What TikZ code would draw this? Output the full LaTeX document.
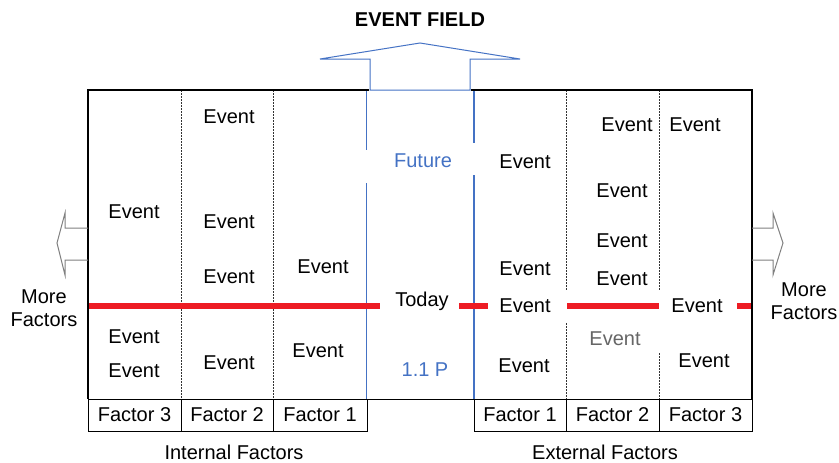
\documentclass[tikz,border=0pt]{standalone}
\usepackage{fontspec}
\setmainfont{Liberation Sans}
\definecolor{fieldblue}{RGB}{68,114,196}
\definecolor{todayred}{RGB}{237,28,36}

\begin{document}
\begin{tikzpicture}[x=1pt,y=-1pt,
    txt/.style={font=\fontsize{20}{23}\selectfont, inner sep=0pt},
    headline/.style={font=\fontsize{20}{23}\selectfont\bfseries, inner sep=0pt},
    divider/.style={black!80, line width=0.9pt, dash pattern=on 1.6pt off 1.4pt},
    todayline/.style={todayred, line width=6pt},
    wall/.style={line width=1.8pt},
    thin/.style={line width=1pt},
    sidearrow/.style={gray, line width=1pt}]
    \useasboundingbox (0,0) rectangle (839,463);
    % event field arrow
    \draw[fieldblue, thin] (370,90) -- (370,59) -- (320,59) -- (420,43) -- (520,59)
        -- (470,59) -- (470,90) -- cycle;
    \node[headline] (field) at (420,20) {EVENT FIELD};
    % dotted factor borders
    \draw[divider] (181,90) -- (181,399) (273,90) -- (273,399);
    \draw[divider] (566,90) -- (566,290) (566,323) -- (566,399);
    \draw[divider] (659,90) -- (659,290) (659,353) -- (659,399);
    % today window
    \draw[fieldblue, line width=1.2pt] (366.5,90) -- (366.5,150) (366.5,183) -- (366.5,399);
    \draw[fieldblue, line width=1.2pt] (474,90) -- (474,143) (474,175) -- (474,399);
    \draw[todayline] (88,306) -- (380,306) (459,306) -- (488,306)
        (567,306) -- (659,306) (737,306) -- (752,306);
    % main box
    \draw[wall] (369,90) -- (88,90) -- (88,399);
    \draw[wall] (471,90) -- (752,90) -- (752,399);
    \draw[thin] (88,399) -- (752,399);
    % factor cells
    \draw[thin] (88,399) rectangle (367,431) (474,399) rectangle (752,431);
    \draw[thin] (181,399) -- (181,431) (273,399) -- (273,431)
        (566,399) -- (566,431) (659,399) -- (659,431);
    % more factors arrows
    \draw[sidearrow] (88,228) -- (65,228) -- (65,213) -- (57,243) -- (65,275) -- (65,260) -- (88,260);
    \draw[sidearrow] (752,228) -- (773,228) -- (773,213) -- (783,243) -- (773,275) -- (773,260) -- (752,260);
    \node[txt, align=center] (moreL) at (44,308) {More\\Factors};
    \node[txt, align=center] (moreR) at (804,301) {More\\Factors};
    % events
    \foreach \n/\x/\y in {in3a/134/212, in3b/134/337, in3c/134/371,
        in2a/229/117, in2b/229/222, in2c/229/277, in2d/229/363,
        in1a/323/267, in1b/318/351,
        ex1a/525/162, ex1b/525/269, ex1c/525/306, ex1d/524/366,
        ex2a/627/125, ex2b/622/191, ex2c/622/241, ex2d/622/279,
        ex3a/695/125, ex3b/697/306, ex3c/704/361}
        \node[txt] (\n) at (\x,\y) {Event};
    \node[txt, black!60] (ex2e) at (615,339) {Event};
    \node[txt, fieldblue] (future) at (423,161) {Future};
    \node[txt] (today) at (422,301) {Today};
    \node[txt, fieldblue] (past) at (425,370) {1.1 P};
    % factor labels
    \node[txt] (fi3) at (134.5,415) {Factor 3};
    \node[txt] (fi2) at (227,415) {Factor 2};
    \node[txt] (fi1) at (320,415) {Factor 1};
    \node[txt] (fe1) at (520,415) {Factor 1};
    \node[txt] (fe2) at (612.5,415) {Factor 2};
    \node[txt] (fe3) at (705.5,415) {Factor 3};
    \node[txt] (internal) at (234,452) {Internal Factors};
    \node[txt] (external) at (605,452) {External Factors};
\end{tikzpicture}
\end{document}
